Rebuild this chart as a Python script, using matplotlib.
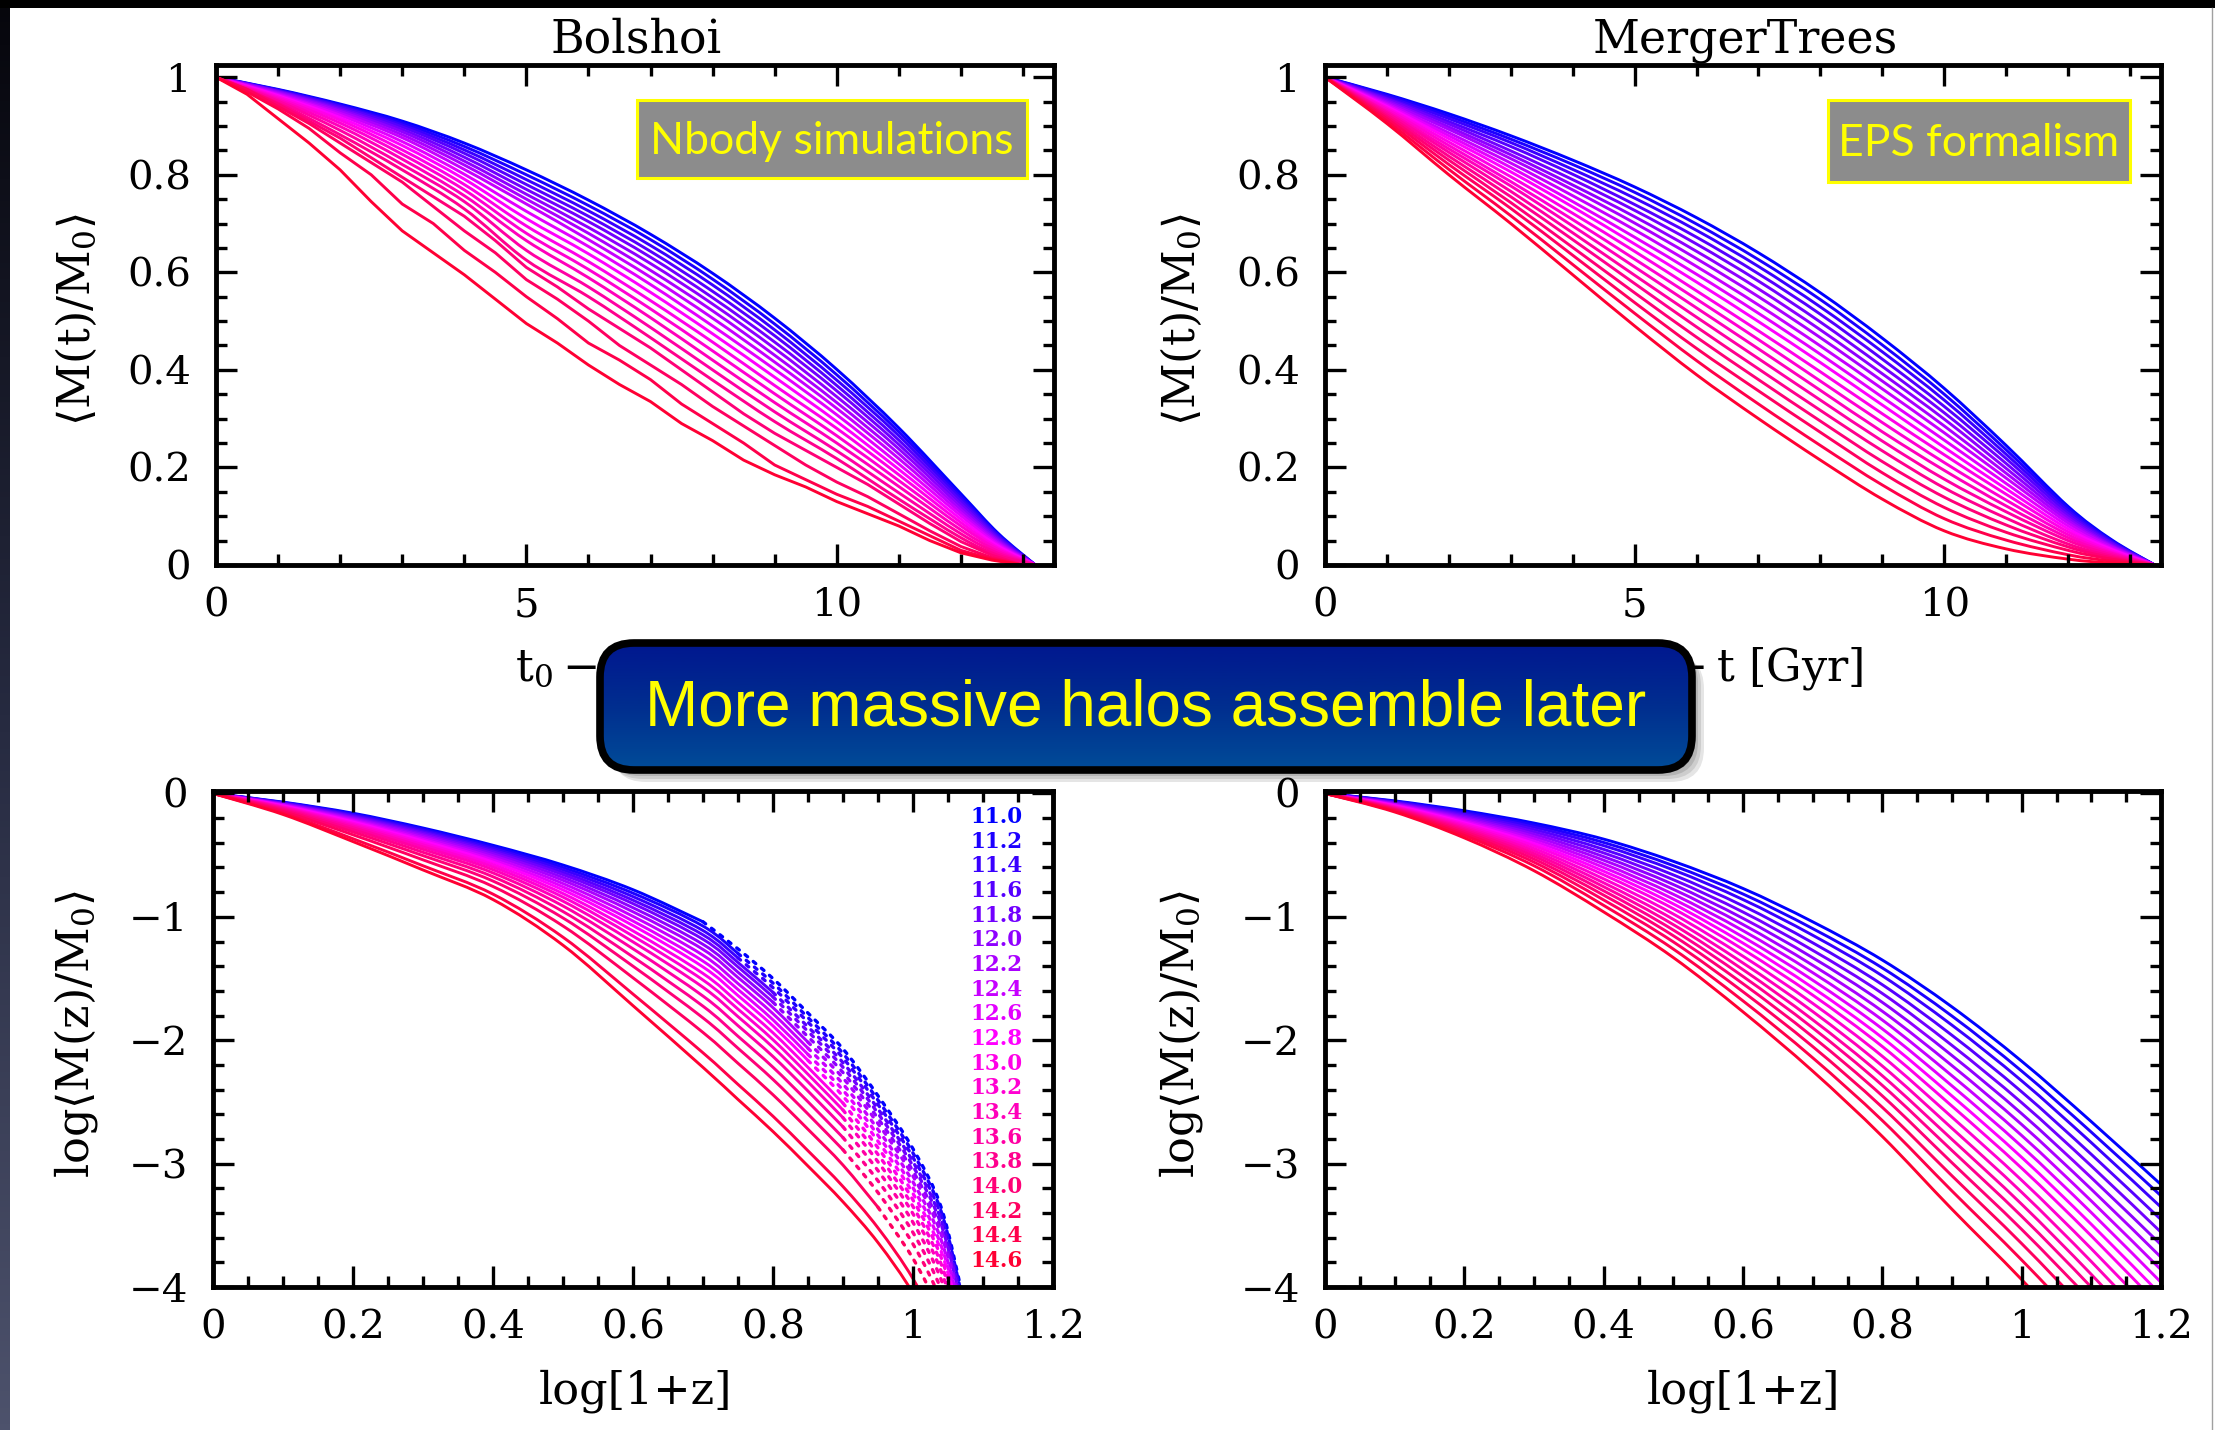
import numpy as np
import matplotlib
matplotlib.use("Agg")
import matplotlib.pyplot as plt
from matplotlib.patches import FancyBboxPatch, Rectangle, PathPatch
from matplotlib.path import Path
from matplotlib.ticker import MultipleLocator, FuncFormatter

# halo masses log(M0), one curve each
masses = [11.0, 11.2, 11.4, 11.6, 11.8, 12.0, 12.2, 12.4, 12.6, 12.8,
          13.0, 13.2, 13.4, 13.6, 13.8, 14.0, 14.2, 14.4, 14.6]
mass_labels = ["%.1f" % m for m in masses]

# --- Bolshoi, <M(t)/M0> vs lookback time; each row = one time, 19 masses
bolshoi_t = [0, 1, 2, 3, 4, 5, 6, 7, 8, 9, 10, 11, 12, 12.6, 13.2]
bolshoi_mt = [
    [1.0] * 19,
    [.975, .974, .973, .972, .971, .970, .968, .966, .964, .962, .960, .957, .954, .951, .947, .942, .935, .925, .910],
    [.945, .943, .941, .939, .936, .933, .930, .926, .922, .917, .912, .906, .899, .891, .882, .872, .860, .830, .800],
    [.910, .906, .902, .898, .893, .888, .882, .876, .868, .860, .851, .842, .832, .821, .810, .795, .775, .740, .675],
    [.865, .858, .851, .844, .836, .828, .820, .811, .801, .791, .780, .769, .757, .745, .730, .710, .670, .625, .580],
    [.810, .800, .790, .780, .770, .760, .750, .740, .725, .710, .695, .680, .665, .645, .625, .600, .565, .530, .490],
    [.748, .737, .726, .715, .704, .692, .680, .667, .653, .638, .622, .606, .589, .570, .550, .527, .490, .450, .400],
    [.678, .667, .655, .643, .631, .618, .604, .590, .575, .559, .542, .525, .507, .487, .466, .445, .405, .365, .325],
    [.598, .586, .574, .561, .548, .535, .521, .506, .490, .474, .457, .439, .420, .400, .379, .355, .320, .285, .250],
    [.506, .494, .482, .470, .457, .444, .430, .416, .401, .385, .368, .351, .333, .314, .294, .270, .240, .210, .180],
    [.401, .390, .379, .368, .357, .345, .333, .321, .308, .294, .280, .265, .250, .234, .218, .200, .175, .150, .128],
    [.281, .273, .265, .256, .247, .238, .228, .218, .207, .196, .185, .173, .161, .148, .135, .121, .105, .088, .072],
    [.146, .141, .136, .131, .125, .119, .113, .107, .101, .094, .087, .080, .072, .064, .056, .048, .039, .030, .022],
    [.065, .062, .060, .057, .054, .051, .048, .045, .042, .039, .035, .032, .028, .024, .020, .017, .013, .009, .006],
    [0.0] * 19,
]

# the four most massive Bolshoi bins are noisy: read at half-Gyr steps
bolshoi_massive_t = [0, .5, 1, 1.5, 2, 2.5, 3, 3.5, 4, 4.5, 5, 5.5, 6, 6.5,
                     7, 7.5, 8, 8.5, 9, 9.5, 10, 10.5, 11, 11.5, 12, 12.5, 13]
bolshoi_m140 = [1, .975, .945, .91, .875, .835, .795, .755, .715, .665, .61, .57, .525, .485,
                .445, .40, .355, .31, .27, .235, .20, .165, .125, .085, .048, .02, 0]
bolshoi_m142 = [1, .975, .94, .905, .865, .825, .785, .735, .685, .64, .585, .545, .50, .45,
                .41, .37, .325, .285, .245, .205, .17, .14, .105, .07, .038, .015, 0]
bolshoi_m144 = [1, .97, .935, .895, .845, .80, .74, .70, .645, .60, .55, .505, .455, .42,
                .38, .33, .29, .25, .205, .175, .145, .12, .09, .06, .03, .012, 0]
bolshoi_m146 = [1, .965, .915, .865, .81, .745, .685, .64, .595, .545, .495, .455, .41, .37,
                .335, .29, .255, .215, .185, .16, .13, .105, .08, .05, .025, .01, 0]

# --- MergerTrees (EPS), <M(t)/M0> vs lookback time
merger_t = [0, 1, 2, 3, 4, 5, 6, 7, 8, 9, 10, 11, 12, 12.7, 13.4]
merger_mt = [
    [1.0] * 19,
    [.965, .963, .960, .957, .955, .952, .949, .946, .943, .940, .937, .934, .930, .927, .923, .919, .915, .910, .905],
    [.925, .920, .915, .909, .904, .898, .893, .886, .880, .874, .867, .860, .853, .846, .838, .830, .821, .811, .800],
    [.880, .873, .866, .858, .849, .841, .833, .824, .815, .806, .796, .786, .777, .766, .755, .743, .731, .716, .700],
    [.830, .821, .811, .801, .790, .779, .769, .757, .745, .734, .721, .708, .695, .681, .667, .651, .635, .616, .595],
    [.775, .764, .752, .739, .727, .714, .701, .687, .672, .658, .643, .627, .611, .594, .577, .558, .538, .516, .490],
    [.712, .699, .686, .672, .658, .643, .628, .612, .596, .580, .562, .545, .527, .508, .488, .467, .444, .419, .390],
    [.640, .626, .612, .597, .582, .566, .550, .533, .516, .499, .480, .462, .443, .423, .402, .380, .357, .330, .300],
    [.558, .544, .529, .514, .498, .482, .466, .449, .432, .415, .396, .377, .358, .338, .317, .295, .272, .245, .215],
    [.465, .451, .437, .422, .407, .392, .377, .361, .344, .328, .310, .292, .273, .254, .234, .212, .189, .164, .135],
    [.362, .350, .338, .325, .312, .299, .285, .271, .256, .241, .226, .210, .194, .176, .158, .139, .118, .095, .070],
    [.245, .236, .227, .218, .208, .198, .188, .178, .167, .156, .145, .133, .121, .109, .096, .082, .067, .051, .033],
    [.120, .116, .111, .106, .101, .096, .091, .086, .080, .074, .068, .062, .056, .050, .043, .037, .030, .021, .012],
    [.052, .050, .048, .046, .044, .041, .039, .037, .034, .032, .029, .026, .024, .021, .018, .015, .012, .008, .004],
    [0.0] * 19,
]

# --- Bolshoi, log<M(z)/M0> vs log(1+z); solid up to solid_end, dotted after
bolshoi_lz = [0, .1, .2, .3, .4, .5, .6, .7, .75, .8, .85, .9, .95, 1.0, 1.04, 1.07]
bolshoi_logm = [
    [0.0] * 19,
    [-.070, -.073, -.076, -.079, -.082, -.086, -.089, -.093, -.097, -.101, -.106, -.110, -.115, -.121, -.128, -.136, -.146, -.160, -.170],
    [-.160, -.167, -.174, -.181, -.188, -.196, -.204, -.213, -.222, -.231, -.242, -.252, -.264, -.277, -.293, -.312, -.335, -.367, -.390],
    [-.280, -.290, -.300, -.311, -.321, -.333, -.345, -.358, -.372, -.385, -.401, -.416, -.433, -.453, -.477, -.504, -.538, -.586, -.620],
    [-.420, -.433, -.446, -.460, -.473, -.488, -.504, -.521, -.539, -.556, -.576, -.596, -.618, -.644, -.675, -.710, -.754, -.816, -.860],
    [-.580, -.600, -.619, -.639, -.658, -.681, -.704, -.730, -.756, -.782, -.811, -.840, -.873, -.912, -.957, -1.009, -1.074, -1.165, -1.230],
    [-.780, -.808, -.836, -.865, -.893, -.926, -.959, -.996, -1.034, -1.071, -1.114, -1.156, -1.203, -1.259, -1.325, -1.400, -1.494, -1.626, -1.720],
    [-1.040, -1.075, -1.111, -1.146, -1.182, -1.223, -1.264, -1.311, -1.359, -1.406, -1.459, -1.512, -1.571, -1.642, -1.724, -1.819, -1.937, -2.102, -2.220],
    [-1.260, -1.297, -1.333, -1.370, -1.406, -1.449, -1.492, -1.541, -1.589, -1.638, -1.693, -1.748, -1.809, -1.882, -1.968, -2.065, -2.187, -2.358, -2.480],
    [-1.500, -1.537, -1.574, -1.612, -1.649, -1.692, -1.736, -1.785, -1.835, -1.884, -1.940, -1.996, -2.058, -2.132, -2.219, -2.318, -2.442, -2.616, -2.740],
    [-1.780, -1.817, -1.854, -1.892, -1.929, -1.972, -2.016, -2.065, -2.115, -2.164, -2.220, -2.276, -2.338, -2.412, -2.499, -2.598, -2.722, -2.896, -3.020],
    [-2.070, -2.107, -2.144, -2.182, -2.219, -2.262, -2.306, -2.355, -2.405, -2.454, -2.510, -2.566, -2.628, -2.702, -2.789, -2.888, -3.012, -3.186, -3.310],
    [-2.450, -2.486, -2.521, -2.557, -2.593, -2.634, -2.676, -2.724, -2.771, -2.819, -2.872, -2.926, -2.986, -3.057, -3.140, -3.235, -3.354, -3.521, -3.640],
    [-2.880, -2.915, -2.950, -2.985, -3.020, -3.061, -3.102, -3.149, -3.196, -3.243, -3.295, -3.348, -3.407, -3.477, -3.559, -3.652, -3.769, -3.933, -4.050],
    [-3.350, -3.385, -3.419, -3.454, -3.488, -3.528, -3.569, -3.615, -3.661, -3.707, -3.758, -3.810, -3.868, -3.937, -4.017, -4.109, -4.224, -4.385, -4.500],
    [-4.050, -4.076, -4.101, -4.127, -4.152, -4.182, -4.212, -4.246, -4.280, -4.314, -4.352, -4.390, -4.433, -4.484, -4.543, -4.611, -4.696, -4.815, -4.900],
]
bolshoi_solid_end = [0.70, 0.75, 0.75, 0.80, 0.80, 0.80, 0.85, 0.85, 0.85, 0.85,
                     0.90, 0.90, 0.90, 0.90, 0.90, 0.90, 0.95, 1.07, 1.07]

# --- MergerTrees, log<M(z)/M0> vs log(1+z)
merger_lz = [0, .1, .2, .3, .4, .5, .6, .7, .8, .9, 1.0, 1.1, 1.2]
merger_logm = [
    [0.0] * 19,
    [-.060, -.064, -.068, -.073, -.077, -.082, -.086, -.091, -.095, -.100, -.104, -.109, -.114, -.119, -.124, -.129, -.135, -.142, -.150],
    [-.140, -.150, -.160, -.171, -.182, -.193, -.204, -.215, -.226, -.237, -.248, -.260, -.272, -.284, -.296, -.309, -.324, -.340, -.360],
    [-.240, -.256, -.273, -.292, -.311, -.330, -.349, -.368, -.387, -.406, -.425, -.446, -.467, -.488, -.509, -.532, -.557, -.586, -.626],
    [-.370, -.397, -.423, -.453, -.482, -.512, -.541, -.571, -.600, -.630, -.659, -.692, -.724, -.756, -.789, -.824, -.863, -.907, -.960],
    [-.550, -.585, -.620, -.660, -.699, -.738, -.777, -.817, -.856, -.895, -.934, -.977, -1.020, -1.063, -1.107, -1.153, -1.203, -1.261, -1.330],
    [-.770, -.815, -.860, -.911, -.961, -1.012, -1.062, -1.112, -1.163, -1.213, -1.264, -1.319, -1.374, -1.428, -1.483, -1.542, -1.607, -1.681, -1.770],
    [-1.040, -1.095, -1.149, -1.210, -1.271, -1.331, -1.392, -1.452, -1.513, -1.574, -1.634, -1.701, -1.767, -1.834, -1.900, -1.972, -2.051, -2.142, -2.250],
    [-1.350, -1.414, -1.478, -1.550, -1.621, -1.693, -1.765, -1.836, -1.908, -1.980, -2.051, -2.130, -2.209, -2.288, -2.366, -2.451, -2.544, -2.651, -2.780],
    [-1.730, -1.804, -1.878, -1.960, -2.042, -2.124, -2.206, -2.288, -2.370, -2.452, -2.534, -2.624, -2.714, -2.804, -2.894, -2.993, -3.099, -3.222, -3.370],
    [-2.170, -2.250, -2.329, -2.418, -2.506, -2.595, -2.683, -2.772, -2.860, -2.949, -3.037, -3.135, -3.232, -3.329, -3.427, -3.533, -3.648, -3.781, -3.940],
    [-2.660, -2.745, -2.830, -2.925, -3.019, -3.114, -3.208, -3.303, -3.397, -3.492, -3.586, -3.690, -3.794, -3.898, -4.002, -4.115, -4.238, -4.380, -4.550],
    [-3.170, -3.261, -3.353, -3.454, -3.556, -3.657, -3.759, -3.860, -3.962, -4.063, -4.165, -4.276, -4.388, -4.500, -4.611, -4.733, -4.865, -5.017, -5.200],
]

plt.rcParams['font.family'] = ['DejaVu Serif']
plt.rcParams['mathtext.fontset'] = 'dejavuserif'

W, H = 2215, 1430
fig = plt.figure(figsize=(W / 100, H / 100), dpi=100)
fig.patch.set_facecolor('white')


def curve_color(i):
    if i <= 9:
        return (i / 9.0, 0.0, 1.0)
    return (1.0, 0.0, 1.0 - 0.8 * (i - 9) / 9.0)


def fmt(v, pos):
    if abs(v) < 1e-9:
        return '0'
    return ('%g' % v).replace('-', '\u2212')


def smooth_line(ax, x, y, **kw):
    # Catmull-Rom curve through the read points, drawn as cubic Bezier segments
    p = np.column_stack([x, y]).astype(float)
    n = len(p)
    verts = [p[0]]
    codes = [Path.MOVETO]
    for i in range(n - 1):
        p0 = p[i - 1] if i > 0 else p[i]
        p1, p2 = p[i], p[i + 1]
        p3 = p[i + 2] if i + 2 < n else p[i + 1]
        verts += [p1 + (p2 - p0) / 6.0, p2 - (p3 - p1) / 6.0, p2]
        codes += [Path.CURVE4] * 3
    ax.add_patch(PathPatch(Path(verts, codes), fill=False, capstyle='round', **kw))


def style(ax, xmaj, xmin, ymaj, ymin):
    ax.xaxis.set_major_locator(MultipleLocator(xmaj))
    ax.xaxis.set_minor_locator(MultipleLocator(xmin))
    ax.yaxis.set_major_locator(MultipleLocator(ymaj))
    ax.yaxis.set_minor_locator(MultipleLocator(ymin))
    ax.xaxis.set_major_formatter(FuncFormatter(fmt))
    ax.yaxis.set_major_formatter(FuncFormatter(fmt))
    ax.tick_params(which='both', direction='in', top=True, right=True,
                   width=2.4, labelsize=29, colors='black')
    ax.tick_params(which='major', length=15)
    ax.tick_params(which='minor', length=8)
    ax.tick_params(axis='x', pad=16)
    ax.tick_params(axis='y', pad=18)
    for s in ax.spines.values():
        s.set_linewidth(3.5)
        s.set_zorder(5)


lw = 2.1
ax_tl = fig.add_axes([216 / W, 1 - 565 / H, 838 / W, 500 / H])
ax_tr = fig.add_axes([1325 / W, 1 - 565 / H, 836 / W, 500 / H])
ax_bl = fig.add_axes([213 / W, 1 - 1287 / H, 840 / W, 496 / H])
ax_br = fig.add_axes([1325 / W, 1 - 1287 / H, 836 / W, 496 / H])

curves = np.array(bolshoi_mt).T
for i, y in enumerate(curves[:15]):
    smooth_line(ax_tl, bolshoi_t, y, edgecolor=curve_color(i), lw=lw)
for i, y in zip(range(15, 19), [bolshoi_m140, bolshoi_m142, bolshoi_m144, bolshoi_m146]):
    ax_tl.plot(bolshoi_massive_t, y, color=curve_color(i), lw=lw)

curves = np.array(merger_mt).T
for i, y in enumerate(curves):
    smooth_line(ax_tr, merger_t, y, edgecolor=curve_color(i), lw=lw)

x = np.array(bolshoi_lz)
curves = np.array(bolshoi_logm).T
for i, y in enumerate(curves):
    k = int((x <= bolshoi_solid_end[i] + 1e-9).sum())
    smooth_line(ax_bl, x[:k], y[:k], edgecolor=curve_color(i), lw=lw)
    if k < len(x):
        smooth_line(ax_bl, x[k - 1:], y[k - 1:], edgecolor=curve_color(i),
                    lw=2.4, linestyle=(0, (1.0, 2.2)))
for i, lab in enumerate(mass_labels):
    ax_bl.text(1.119, -0.19 - 0.2 * i, lab, color=curve_color(i), fontsize=15.5,
               fontweight='bold', ha='center', va='center')

curves = np.array(merger_logm).T
for i, y in enumerate(curves):
    smooth_line(ax_br, merger_lz, y, edgecolor=curve_color(i), lw=lw)

for ax in (ax_tl, ax_tr):
    ax.set_xlim(0, 13.5)
    ax.set_ylim(0, 1.025)
    style(ax, 5, 1, 0.2, 0.05)
for ax in (ax_bl, ax_br):
    ax.set_xlim(0, 1.2)
    ax.set_ylim(-4, 0.02)
    style(ax, 0.2, 0.05, 1, 0.2)

# axis labels and titles
lab_kw = dict(fontsize=32, ha='center', va='center')
fig.text(636 / W, 1 - 40 / H, 'Bolshoi', fontsize=33, ha='center', va='center')
fig.text(1745 / W, 1 - 40 / H, 'MergerTrees', fontsize=33, ha='center', va='center')
for xc in (76, 1181):
    fig.text(xc / W, 1 - 320 / H, r'$\langle\mathrm{M(t)/M_0}\rangle$',
             rotation=90, **lab_kw)
    fig.text(xc / W, 1 - 1034 / H, r'$\mathrm{log}\langle\mathrm{M(z)/M_0}\rangle$',
             rotation=90, **lab_kw)
for xc in (635, 1743):
    fig.text(xc / W, 1 - 668 / H, r'$\mathrm{t_0}-\mathrm{t\ [Gyr]}$', **lab_kw)
    fig.text(xc / W, 1 - 1391 / H, 'log[1+z]', **lab_kw)

# overlay in pixel coordinates for the decorations
ov = fig.add_axes([0, 0, 1, 1], zorder=10)
ov.set_xlim(0, W)
ov.set_ylim(H, 0)
ov.axis('off')
ov.patch.set_visible(False)

# frame edges
ov.add_patch(Rectangle((0, 0), W, 8, color='black', lw=0))
grad = np.linspace(0, 1, 256)[:, None]
edge_cmap = matplotlib.colors.LinearSegmentedColormap.from_list(
    'edge', ['#06060c', '#262a40', '#4d526c'])
ov.imshow(grad, extent=[0, 10, H, 0], cmap=edge_cmap, aspect='auto')
ov.plot([2212, 2212], [8, H], color='#a0a0a0', lw=1)

# label boxes
for (x0, y0, x1, y1, txt) in [(637, 100, 1027, 178, 'Nbody simulations'),
                              (1828, 100, 2130, 182, 'EPS formalism')]:
    ov.add_patch(Rectangle((x0, y0), x1 - x0, y1 - y0, facecolor='#8c8c8c',
                           edgecolor='#ffff00', lw=2.2))
    ov.text((x0 + x1) / 2, (y0 + y1) / 2 + 2, txt, color='#ffff00', fontsize=32,
            family=['Lato', 'DejaVu Sans'], ha='center', va='center')

# banner
bx0, by0, bx1, by1 = 600, 643, 1692, 770
for k, a in enumerate([0.10, 0.10, 0.12, 0.14]):
    off = 12 - 3 * k
    ov.add_patch(FancyBboxPatch((bx0 + off, by0 + off), bx1 - bx0, by1 - by0,
                                boxstyle='round,pad=0,rounding_size=34',
                                facecolor='black', edgecolor='none', alpha=a,
                                zorder=1))
ban_cmap = matplotlib.colors.LinearSegmentedColormap.from_list(
    'ban', ['#00178f', '#002e8f', '#004c98'])
clip = FancyBboxPatch((bx0, by0), bx1 - bx0, by1 - by0,
                      boxstyle='round,pad=0,rounding_size=34',
                      facecolor='none', edgecolor='none', transform=ov.transData)
im = ov.imshow(grad, extent=[bx0, bx1, by1, by0], cmap=ban_cmap, aspect='auto',
               zorder=2)
im.set_clip_path(clip)
ov.add_patch(FancyBboxPatch((bx0, by0), bx1 - bx0, by1 - by0,
                            boxstyle='round,pad=0,rounding_size=34',
                            facecolor='none', edgecolor='black', lw=5.5, zorder=3))
ov.text((bx0 + bx1) / 2, (by0 + by1) / 2 + 2, 'More massive halos assemble later',
        color='#ffff00', fontsize=46, family=['Liberation Sans', 'DejaVu Sans'],
        ha='center', va='center', zorder=4)
ov.set_xlim(0, W)
ov.set_ylim(H, 0)

fig.savefig('out.png', dpi=100, facecolor='white')
